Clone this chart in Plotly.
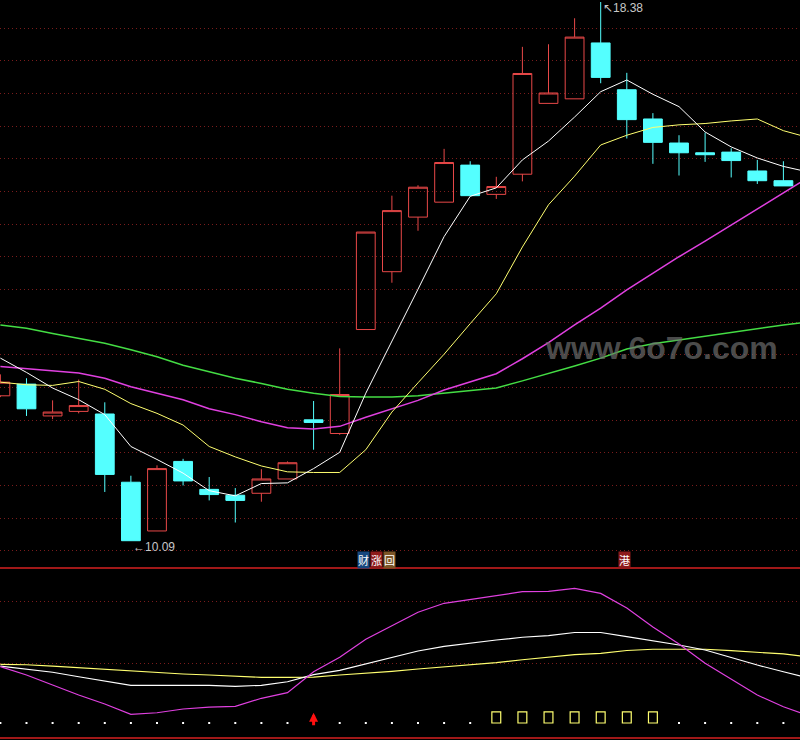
import sys
import plotly.graph_objects as go
import plotly.subplots

# one entry per trading day
days = list(range(31))
opens = [12.32, 12.50, 12.01, 12.08, 12.04, 10.99, 10.24, 11.31, 10.88, 10.79,
         10.82, 11.04, 11.95, 11.74, 13.34, 14.23, 15.07, 15.30, 15.87, 15.42,
         15.73, 16.82, 16.89, 17.75, 17.03, 16.58, 16.21, 16.06, 16.07, 15.78,
         15.63]
highs = [12.65, 12.59, 12.25, 12.57, 12.22, 11.09, 11.25, 11.35, 11.07, 10.90,
         11.19, 11.31, 12.24, 13.05, 14.84, 15.40, 15.56, 16.12, 15.93, 15.69,
         17.69, 17.73, 18.13, 18.38, 17.29, 16.67, 16.33, 16.37, 16.13, 15.95,
         15.93]
lows = [12.30, 12.01, 11.96, 12.05, 10.84, 10.09, 10.24, 10.94, 10.71, 10.37,
        10.69, 11.04, 11.49, 11.72, 13.34, 14.06, 14.86, 15.30, 15.40, 15.35,
        15.62, 16.82, 16.89, 17.13, 16.28, 15.89, 15.71, 15.92, 15.68, 15.58,
        15.55]
closes = [12.53, 12.12, 12.07, 12.17, 11.11, 10.09, 11.20, 11.01, 10.80, 10.71,
          11.04, 11.29, 11.91, 12.34, 14.84, 15.17, 15.53, 15.91, 15.40, 15.54,
          17.28, 16.98, 17.84, 17.22, 16.57, 16.22, 16.06, 16.03, 15.94, 15.63,
          15.55]

# moving averages run one day past the last visible candle
line_days = list(range(32))
ma5 = [12.90, 12.68, 12.44, 12.26, 12.03, 11.54, 11.34, 11.13, 10.86, 10.78,
       10.97, 10.98, 11.20, 11.45, 12.36, 13.15, 13.96, 14.77, 15.39, 15.52,
       15.95, 16.24, 16.61, 17.00, 17.18, 16.96, 16.77, 16.38, 16.15, 15.98,
       15.85, 15.76]
ma10 = [12.53, 12.49, 12.48, 12.54, 12.42, 12.20, 12.05, 11.87, 11.54, 11.38,
        11.24, 11.15, 11.14, 11.14, 11.49, 12.07, 12.52, 12.96, 13.43, 13.89,
        14.61, 15.26, 15.70, 16.18, 16.33, 16.45, 16.49, 16.51, 16.55, 16.58,
        16.40, 16.29]
ma20 = [12.77, 12.74, 12.71, 12.67, 12.59, 12.46, 12.36, 12.26, 12.12, 12.03,
        11.92, 11.83, 11.81, 11.85, 11.99, 12.12, 12.25, 12.41, 12.54, 12.66,
        12.89, 13.14, 13.41, 13.67, 13.95, 14.21, 14.46, 14.70, 14.95, 15.20,
        15.44, 15.69]
ma60 = [13.41, 13.36, 13.28, 13.21, 13.13, 13.03, 12.92, 12.79, 12.69, 12.59,
        12.51, 12.42, 12.36, 12.31, 12.30, 12.30, 12.32, 12.36, 12.40, 12.44,
        12.55, 12.66, 12.78, 12.90, 13.04, 13.12, 13.18, 13.24, 13.30, 13.36,
        13.41, 13.46]

# lower indicator pane
ind_fast = [16.4, 8.2, -1.6, -11.5, -20.3, -30.5, -28.9, -25.2, -23.3, -22.6,
            -14.7, -9.2, 11.4, 25.6, 43.3, 56.4, 69.9, 78.7, 82.7, 86.2,
            90.1, 90.5, 93.3, 88.4, 74.1, 55.4, 38.7, 19.7, 4.3, -11.5,
            -23.0, -32.1]
ind_mid = [17.0, 14.1, 10.9, 6.5, 2.3, -1.9, -1.9, -1.9, -1.9, -2.9,
           -1.9, 1.6, 8.5, 12.8, 19.3, 25.2, 31.8, 36.4, 39.7, 42.6,
           45.3, 46.9, 50.0, 50.0, 45.9, 41.9, 37.7, 32.8, 25.2, 18.0,
           11.4, 5.2]
ind_slow = [18.7, 18.3, 17.0, 15.4, 14.1, 11.8, 10.2, 9.2, 8.2, 6.9,
            5.9, 5.9, 6.2, 8.2, 9.9, 11.8, 14.1, 16.1, 18.0, 20.3,
            23.2, 25.6, 28.2, 29.5, 32.3, 33.5, 33.8, 33.5, 32.1, 30.8,
            28.9, 25.9]
signals = ["dot"] * 12 + ["up"] + ["dot"] * 6 + ["box"] * 7 + ["dot"] * 5

events = [(14, "财涨回"), (24, "港")]
event_colors = {"财": "#17477e", "涨": "#8e1b1b", "回": "#7c5526", "港": "#8e1b1b"}

UP = "#e84848"
DOWN = "#54ffff"
GRID = "#7a1c1c"
SEP = "#a01818"


def main(argv):
    fig = plotly.subplots.make_subplots(rows=2, cols=1, shared_xaxes=True,
                                        vertical_spacing=0,
                                        row_heights=[568, 172])

    fig.add_trace(go.Candlestick(x=days, open=opens, high=highs, low=lows, close=closes,
                                 increasing=dict(line=dict(color=UP, width=1),
                                                 fillcolor="rgba(0,0,0,0)"),
                                 decreasing=dict(line=dict(color=DOWN, width=1),
                                                 fillcolor=DOWN),
                                 hoverinfo="skip"), row=1, col=1)
    for vals, color, width in [(ma60, "#44dd44", 1.5), (ma20, "#e040e0", 1.5),
                               (ma10, "#ffff70", 1), (ma5, "#ffffff", 1)]:
        fig.add_trace(go.Scatter(x=line_days, y=vals, mode="lines",
                                 line=dict(color=color, width=width),
                                 hoverinfo="skip"), row=1, col=1)

    for vals, color in [(ind_slow, "#ffff70"), (ind_mid, "#ffffff"), (ind_fast, "#e040e0")]:
        fig.add_trace(go.Scatter(x=line_days, y=vals, mode="lines",
                                 line=dict(color=color, width=1.2),
                                 hoverinfo="skip"), row=2, col=1)

    level = -39
    dot_x = [d for d, s in zip(days, signals) if s == "dot"]
    box_x = [d for d, s in zip(days, signals) if s == "box"]
    up_x = [d for d, s in zip(days, signals) if s == "up"]
    fig.add_trace(go.Scatter(x=dot_x, y=[level] * len(dot_x), mode="markers",
                             marker=dict(symbol="square", size=2, color="#ffffff"),
                             hoverinfo="skip"), row=2, col=1)
    fig.add_trace(go.Bar(x=box_x, y=[11] * len(box_x), base=[level] * len(box_x),
                         width=0.34, marker=dict(color="rgba(0,0,0,0)",
                                                 line=dict(color="#ffff70", width=1.2)),
                         hoverinfo="skip"), row=2, col=1)
    for d in up_x:
        fig.add_annotation(x=d, y=level + 10, xref="x2", yref="y2", text="",
                           showarrow=True, ax=0, ay=14, standoff=0, startstandoff=0,
                           arrowhead=2, arrowsize=0.6, arrowwidth=3,
                           arrowcolor="#ff1010")

    # extremes
    hi = highs.index(max(highs))
    lo = lows.index(min(lows))
    label_font = dict(family="Liberation Sans", size=12, color="#c8c8c8")
    fig.add_annotation(x=hi, y=highs[hi], xref="x", yref="y",
                       text="↖{:.2f}".format(highs[hi]), showarrow=False,
                       xanchor="left", yanchor="middle", yshift=-6, font=label_font)
    fig.add_annotation(x=lo, y=lows[lo], xref="x", yref="y",
                       text="←{:.2f}".format(lows[lo]), showarrow=False,
                       xanchor="left", yanchor="middle", yshift=-6, font=label_font)

    for d, word in events:
        for k, ch in enumerate(word):
            fig.add_annotation(x=d, y=180 / 740, xref="x", yref="paper", text=ch,
                               showarrow=False, xanchor="center", yanchor="middle",
                               xshift=-2 + 12.7 * k, bgcolor=event_colors[ch],
                               borderpad=0,
                               font=dict(family="Noto Sans CJK SC", size=11,
                                         color="#ffffff"))

    fig.add_annotation(x=661 / 800, y=392 / 740, xref="paper", yref="paper",
                       xanchor="center", yanchor="middle",
                       text="<b>www.6o7o.com</b>", showarrow=False,
                       font=dict(family="Liberation Sans", size=32,
                                 color="rgba(110,110,110,0.7)"))

    fig.add_shape(type="line", xref="paper", yref="paper", x0=0, x1=1,
                  y0=172 / 740, y1=172 / 740, line=dict(color=SEP, width=2))
    fig.add_shape(type="line", xref="paper", yref="paper", x0=0, x1=1,
                  y0=2 / 740, y1=2 / 740, line=dict(color=SEP, width=2))

    fig.update_xaxes(range=[-0.015, 30.636], showgrid=False, zeroline=False,
                     showticklabels=False, rangeslider_visible=False)
    fig.update_yaxes(range=[9.670, 18.411], tick0=9.932, dtick=0.5028,
                     showgrid=True, gridcolor=GRID, griddash="1px,3px", gridwidth=1,
                     zeroline=False, showticklabels=False, row=1, col=1)
    fig.update_yaxes(range=[-55.7, 113.4], tickvals=[20, 80],
                     showgrid=True, gridcolor=GRID, griddash="1px,3px", gridwidth=1,
                     zeroline=False, showticklabels=False, row=2, col=1)
    fig.update_layout(width=800, height=740, margin=dict(l=0, r=0, t=0, b=0),
                      paper_bgcolor="#000000", plot_bgcolor="#000000",
                      boxgap=0.28, boxgroupgap=0, showlegend=False)
    fig.write_html("out.html", config={"displayModeBar": False},
                   post_script="document.body.style.margin='0';")


if __name__ == "__main__":
    main(sys.argv)
